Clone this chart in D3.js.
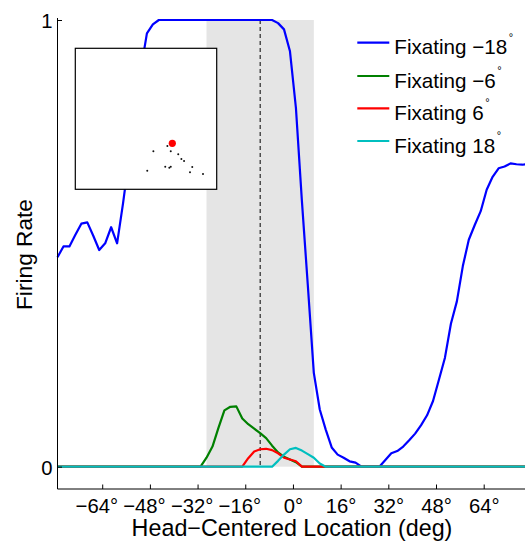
<!DOCTYPE html>
<html>
<head>
<meta charset="utf-8">
<script src="https://cdn.jsdelivr.net/npm/d3@7/dist/d3.min.js"></script>
<style>
  html, body { margin: 0; padding: 0; background: #fff; }
  svg { display: block; }
  text { font-family: "Liberation Sans", Arial, Helvetica, sans-serif; fill: #000; }
</style>
</head>
<body>
<svg id="chart" width="525" height="545"></svg>
<script>
// ---- data ----
const locations = [-79,-77,-75,-73,-71,-69,-67,-65,-63,-61,-59,-57,-55,-53,-51,-49,-47,-45,-43,-41,
  -39,-37,-35,-33,-31,-29,-27,-25,-23,-21,-19,-17,-15,-13,-11,-9,-7,-5,-3,-1,
  1,3,5,7,9,11,13,15,17,19,21,23,25,27,29,31,33,35,37,39,
  41,43,45,47,49,51,53,55,57,59,61,63,65,67,69,71,73,75,77,79];

const fixNeg18 = [0.469,0.493,0.493,0.519,0.544,0.547,0.517,0.485,0.500,0.536,0.500,0.590,0.690,0.790,0.890,0.970,0.990,1,1,1,
  1,1,1,1,1,1,1,1,1,1,1,1,1,1,1,1,1,0.993,0.979,0.930,
  0.803,0.595,0.405,0.210,0.128,0.083,0.043,0.027,0.020,0.012,0.009,0,0,0,0,0.015,0.030,0.035,0.045,0.059,
  0.074,0.093,0.115,0.147,0.195,0.244,0.320,0.370,0.449,0.508,0.541,0.572,0.620,0.649,0.668,0.672,0.679,0.677,0.676,0.678];

const fixNeg6 = [0,0,0,0,0,0,0,0,0,0,0,0,0,0,0,0,0,0,0,0,
  0,0,0,0,0,0.020,0.045,0.087,0.126,0.134,0.135,0.108,0.095,0.085,0.075,0.064,0.047,0.032,0.022,0.016,
  0.010,0,0,0,0,0,0,0,0,0,0,0,0,0,0,0,0,0,0,0,
  0,0,0,0,0,0,0,0,0,0,0,0,0,0,0,0,0,0,0,0];

const fixPos6 = [0,0,0,0,0,0,0,0,0,0,0,0,0,0,0,0,0,0,0,0,
  0,0,0,0,0,0,0,0,0,0,0,0,0.019,0.034,0.039,0.040,0.037,0.030,0.020,0.016,
  0.012,0,0,0,0,0,0,0,0,0,0,0,0,0,0,0,0,0,0,0,
  0,0,0,0,0,0,0,0,0,0,0,0,0,0,0,0,0,0,0,0];

const fixPos18 = [0,0,0,0,0,0,0,0,0,0,0,0,0,0,0,0,0,0,0,0,
  0,0,0,0,0,0,0,0,0,0,0,0,0,0,0,0,0,0.013,0.027,0.039,
  0.042,0.036,0.028,0.020,0.007,0,0,0,0,0,0,0,0,0,0,0,0,0,0,0,
  0,0,0,0,0,0,0,0,0,0,0,0,0,0,0,0,0,0,0,0];

const seriesNames = ["Fixating \u221218", "Fixating \u22126", "Fixating 6", "Fixating 18"];
const seriesColors = ["#0000ff", "#008000", "#ff0000", "#00bfbf"];
const seriesValues = [fixNeg18, fixNeg6, fixPos6, fixPos18];

const xTicks = [-64, -48, -32, -16, 0, 16, 32, 48, 64];
const yTicks = [0, 1];
const shadeRange = [-29, 7];
const dashedAt = -11;

// inset: target dots (normalised 0..1 within inset box), and fixation point
const insetDotsU = [0.651,0.552,0.675,0.728,0.750,0.769,0.636,0.665,0.675,0.509,0.827,0.811,0.903];
const insetDotsV = [0.693,0.730,0.730,0.752,0.785,0.799,0.840,0.847,0.840,0.868,0.842,0.879,0.891];
const insetFix = [0.686, 0.674];

// ---- helpers ----
const svg = d3.select("#chart");
function sizeFor(str, targetWidth) {
  const t = svg.append("text").attr("font-size", 20).attr("x", -1000).attr("y", -1000).text(str);
  const w = t.node().getComputedTextLength();
  t.remove();
  return 20 * targetWidth / w;
}
function widthOf(str, fs) {
  const t = svg.append("text").attr("font-size", fs).attr("x", -1000).attr("y", -1000).text(str);
  const w = t.node().getComputedTextLength();
  t.remove();
  return w;
}
const tickFs = sizeFor("\u221264\u00b0", 42.5);
const legFs = sizeFor("Fixating \u221218", 113);
const xLabFs = sizeFor("Head\u2212Centered Location (deg)", 321);
const yLabFs = sizeFor("Firing Rate", 111);
const minusW = widthOf("\u2212", tickFs);

// ---- drawing ----
const x = d3.scaleLinear().domain([-79, 79]).range([57.5, 528.4]);
const y = d3.scaleLinear().domain([-0.05, 1]).range([489, 20]);

// shaded region
svg.append("rect")
  .attr("x", x(shadeRange[0])).attr("y", y(1))
  .attr("width", x(shadeRange[1]) - x(shadeRange[0]))
  .attr("height", y(0) - y(1))
  .attr("fill", "#e5e5e5");

// dashed line
svg.append("line")
  .attr("x1", x(dashedAt)).attr("x2", x(dashedAt))
  .attr("y1", y(1)).attr("y2", y(0))
  .attr("stroke", "#000").attr("stroke-width", 1)
  .attr("stroke-dasharray", "4,3");

// lines
const line = d3.line().x((d, i) => x(locations[i])).y(d => y(d));
seriesValues.forEach((vals, k) => {
  svg.append("path")
    .datum(vals)
    .attr("d", line)
    .attr("fill", "none")
    .attr("stroke", seriesColors[k])
    .attr("stroke-width", 2.2)
    .attr("stroke-linejoin", "round");
});

// axes (inward ticks, no box)
const xAxis = d3.axisBottom(x).tickValues(xTicks)
  .tickSize(-4.5).tickPadding(10)
  .tickFormat(d => (d < 0 ? "\u2212" + Math.abs(d) : d) + "\u00b0");
const gx = svg.append("g").attr("transform", `translate(0,${y(-0.05)})`).call(xAxis);
gx.select(".domain").attr("d", `M${x(-79)},0H525`).attr("stroke", "#000");
gx.selectAll(".tick line").attr("stroke", "#000");
gx.selectAll(".tick text")
  .attr("font-size", tickFs).attr("font-family", "Liberation Sans, Arial, sans-serif").attr("fill", "#000")
  .attr("y", 24).attr("dy", null)
  .attr("dx", d => d < 0 ? -minusW / 2 : 0);

const yAxis = d3.axisLeft(y).tickValues(yTicks).tickSize(-4.5).tickPadding(5).tickFormat(d3.format("d"));
const gy = svg.append("g").attr("transform", `translate(${x(-79)},0)`).call(yAxis);
gy.select(".domain").attr("d", `M0,${y(-0.05)}V${y(1) - 2}`).attr("stroke", "#000");
gy.selectAll(".tick line").attr("stroke", "#000");
gy.selectAll(".tick text")
  .attr("font-size", tickFs).attr("font-family", "Liberation Sans, Arial, sans-serif").attr("fill", "#000")
  .attr("dy", null).attr("y", 7.5);

// axis labels
svg.append("text")
  .attr("x", 292).attr("y", 536)
  .attr("text-anchor", "middle").attr("font-size", xLabFs)
  .text("Head\u2212Centered Location (deg)");
svg.append("text")
  .attr("transform", `translate(31.5,${(y(1) + y(-0.05)) / 2}) rotate(-90)`)
  .attr("text-anchor", "middle").attr("font-size", yLabFs)
  .text("Firing Rate");

// inset
const inset = { x: 75.3, y: 48.3, w: 141.4, h: 141 };
const u = d3.scaleLinear().domain([0, 1]).range([inset.x, inset.x + inset.w]);
const v = d3.scaleLinear().domain([0, 1]).range([inset.y, inset.y + inset.h]);
svg.append("rect")
  .attr("x", inset.x).attr("y", inset.y).attr("width", inset.w).attr("height", inset.h)
  .attr("fill", "#fff").attr("stroke", "#000").attr("stroke-width", 1.2);
svg.selectAll(".idot").data(insetDotsU).enter().append("circle")
  .attr("class", "idot")
  .attr("cx", (d) => u(d)).attr("cy", (d, i) => v(insetDotsV[i]))
  .attr("r", 1).attr("fill", "#111");
svg.append("circle")
  .attr("cx", u(insetFix[0])).attr("cy", v(insetFix[1]))
  .attr("r", 3.6).attr("fill", "#ff0000");

// legend
const legY = [42.7, 76, 108.3, 141];
seriesNames.forEach((name, k) => {
  svg.append("line")
    .attr("x1", 357.3).attr("x2", 389.3)
    .attr("y1", legY[k]).attr("y2", legY[k])
    .attr("stroke", seriesColors[k]).attr("stroke-width", 2.2);
  const t = svg.append("text")
    .attr("x", 394.3).attr("y", legY[k] + 11.5)
    .attr("font-size", legFs);
  t.append("tspan").text(name);
  t.append("tspan").attr("font-size", 11).attr("dy", -13.5).attr("dx", 1.5).text("\u00b0");
});
</script>
</body>
</html>
